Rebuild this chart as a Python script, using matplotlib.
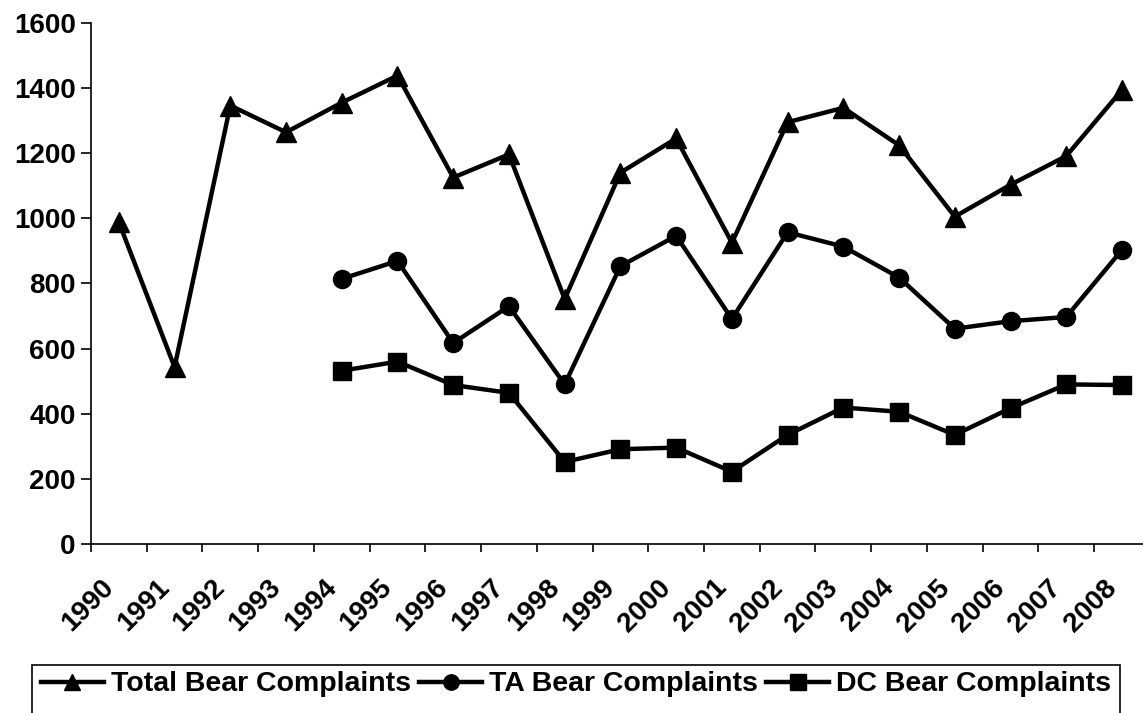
import matplotlib.pyplot as plt
from matplotlib.patches import Rectangle
import numpy as np

plt.rcParams['font.family'] = ['Liberation Sans', 'DejaVu Sans']
plt.rcParams['font.weight'] = 'bold'

# Данные
years = ['1990', '1991', '1992', '1993', '1994', '1995', '1996', '1997', '1998', '1999',
         '2000', '2001', '2002', '2003', '2004', '2005', '2006', '2007', '2008']
total = [988, 543, 1346, 1264, 1355, 1438, 1125, 1196, 752, 1140,
         1245, 925, 1295, 1339, 1224, 1005, 1103, 1191, 1394]
ta = [None, None, None, None, 814, 869, 617, 730, 490, 853,
      946, 691, 957, 913, 818, 661, 684, 697, 903]
dc = [None, None, None, None, 532, 560, 488, 464, 252, 291,
      296, 222, 335, 419, 406, 335, 417, 490, 488]

x = np.arange(len(years))
ta_arr = np.array([np.nan if v is None else v for v in ta], dtype=float)
dc_arr = np.array([np.nan if v is None else v for v in dc], dtype=float)

fig = plt.figure(figsize=(11.43, 7.13), dpi=100)
ax = fig.add_axes([0.0796, 0.237, 0.9264, 0.731])

ax.plot(x, total, color='black', lw=3.2, marker='^', ms=14, label='Total Bear Complaints')
ax.plot(x, ta_arr, color='black', lw=3.2, marker='o', ms=13, label='TA Bear Complaints')
ax.plot(x, dc_arr, color='black', lw=3.2, marker='s', ms=13, label='DC Bear Complaints')

ax.set_xlim(-0.5, len(years) - 0.5)
ax.set_ylim(0, 1600)
ax.set_yticks(range(0, 1601, 200))
ax.tick_params(axis='y', labelsize=20, length=7, width=1.2, pad=4)

# Метки категорий по центрам, засечки на границах
ax.set_xticks(x)
ax.set_xticklabels(years, rotation=45, ha='right', va='top', fontsize=20)
ax.tick_params(axis='x', which='major', length=0, pad=22)
ax.set_xticks(np.arange(-0.5, len(years), 1), minor=True)
ax.tick_params(axis='x', which='minor', length=6, width=1.2)

for s in ['top', 'right']:
    ax.spines[s].set_visible(False)
for s in ['left', 'bottom']:
    ax.spines[s].set_linewidth(1.2)

# Легенда (рамка обрезана снизу, как в оригинале)
fig.patches.append(Rectangle((0.028, -0.05), 0.952, 0.1167, transform=fig.transFigure,
                             facecolor='none', edgecolor='black', lw=1.2))
leg = fig.legend(loc='center', bbox_to_anchor=(0.504, 0.040), ncol=3, fontsize=20.5,
                 frameon=False, handlelength=2.2, handletextpad=0.25, columnspacing=0.3,
                 borderpad=0.2, markerscale=0.85)

plt.savefig('out.png', dpi=100)
